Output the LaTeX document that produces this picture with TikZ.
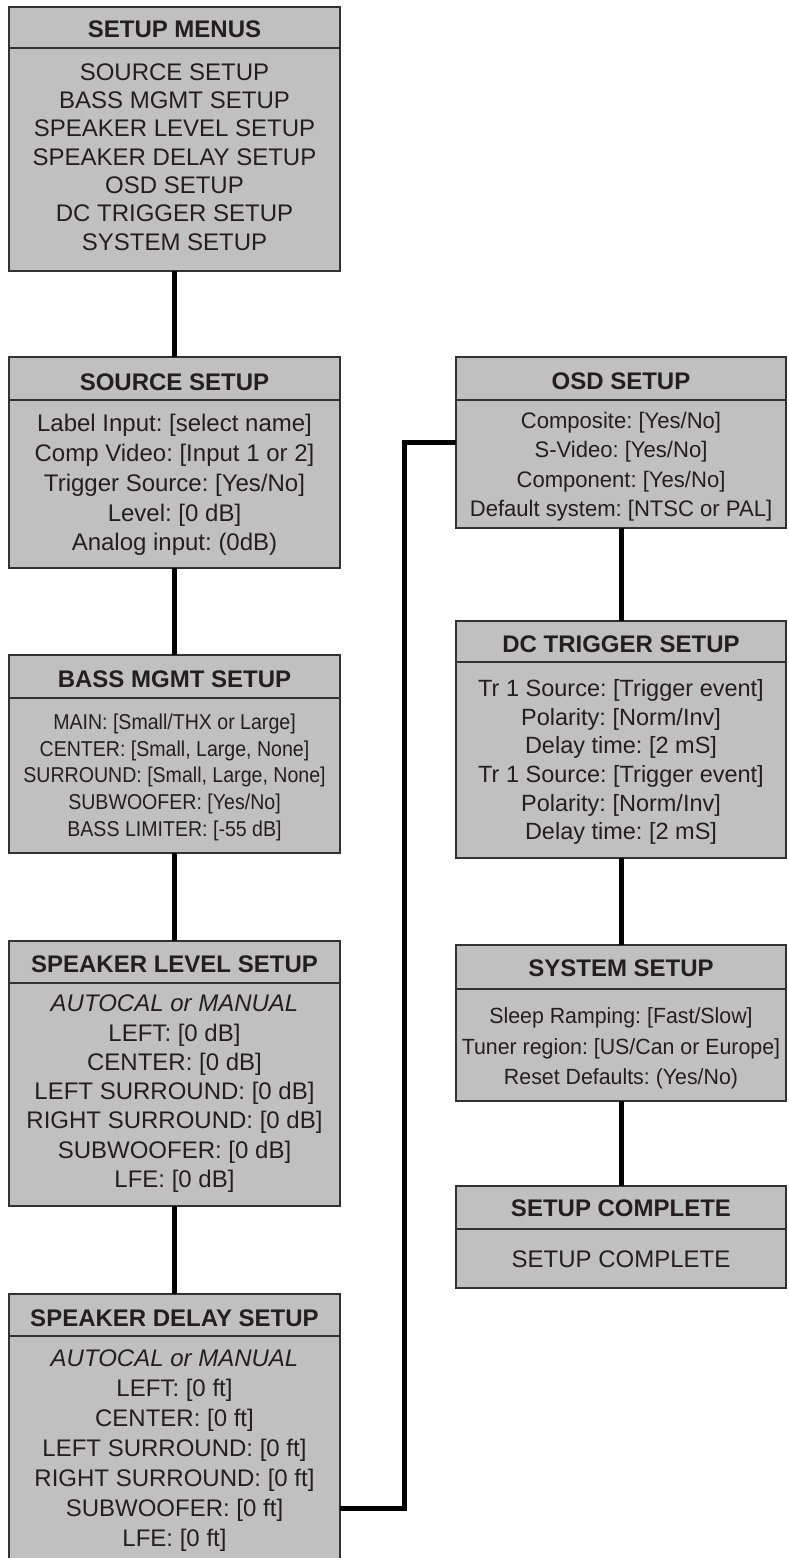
\documentclass[tikz,border=0pt]{standalone}
\usepackage{fontspec}
\setmainfont{Liberation Sans}
\newfontfamily\condfont[FakeStretch=0.91]{Liberation Sans}
\newfontfamily\sysfont[FakeStretch=0.97]{Liberation Sans}
\newfontfamily\osdfont[FakeStretch=0.98]{Liberation Sans}
\definecolor{boxgray}{RGB}{192,192,192}
\definecolor{edgegray}{RGB}{50,50,50}
\definecolor{ink}{RGB}{35,31,32}
\frenchspacing
\newcommand\menubox[6]{%
  \node[box, minimum width={#4-#2}, minimum height={#5-#3}] (#1) at ({(#2+#4)/2},{(#3+#5)/2}) {};
  \draw[divline] ({#2},{#6}) -- ({#4},{#6});}
\tikzset{
  box/.style={draw=edgegray, line width=1.1pt, fill=boxgray, inner sep=0pt, outer sep=0pt},
  divline/.style={draw=edgegray, line width=1.1pt},
  head/.style={anchor=base, inner sep=0pt, text=ink, font=\bfseries\fontsize{24}{28}\selectfont},
  body/.style={anchor=base, inner sep=0pt, text=ink},
  conn/.style={draw=black, line width=5pt}
}
\begin{document}
\begin{tikzpicture}[x=1pt, y=-1pt]
\useasboundingbox[fill=white] (0,0) rectangle (789,1558);

% boxes
\menubox{menus}{9}{7}{340}{271}{48}
\menubox{src}{9}{357}{340}{568}{400}
\menubox{bass}{9}{655}{340}{853}{698}
\menubox{level}{9}{941}{340}{1206}{983}
\menubox{delay}{9}{1294}{340}{1580}{1336}
\menubox{osd}{456}{357}{786}{528}{400}
\menubox{dc}{456}{621}{786}{858}{662}
\menubox{sys}{456}{945}{786}{1101}{989}
\menubox{done}{456}{1186}{786}{1288}{1229}

% connectors
\coordinate (turn) at (404,1508);
\draw[conn] (menus.south) -- (src.north);
\draw[conn] (src.south) -- (bass.north);
\draw[conn] (bass.south) -- (level.north);
\draw[conn] (level.south) -- (delay.north);
\draw[conn] (delay.east |- turn) -- (turn) |- (osd.west);
\draw[conn] (osd.south) -- (dc.north);
\draw[conn] (dc.south) -- (sys.north);
\draw[conn] (sys.south) -- (done.north);

% headers
\node[head] (menus-h) at (174.5,37.5) {SETUP MENUS};
\node[head] (src-h) at (174.5,390) {SOURCE SETUP};
\node[head] (bass-h) at (174.5,687.3) {BASS MGMT SETUP};
\node[head] (level-h) at (174.5,972.7) {SPEAKER LEVEL SETUP};
\node[head] (delay-h) at (174.5,1326) {SPEAKER DELAY SETUP};
\node[head] (osd-h) at (621,389.3) {OSD SETUP};
\node[head] (dc-h) at (621,652) {DC TRIGGER SETUP};
\node[head] (sys-h) at (621,976) {SYSTEM SETUP};
\node[head] (done-h) at (621,1216) {SETUP COMPLETE};

% bodies
\node[body, font=\fontsize{24}{28.3}\selectfont] (menus-b) at (174.5,80.3)
  {\begin{tabular}[t]{@{}c@{}}SOURCE SETUP\\BASS MGMT SETUP\\SPEAKER LEVEL SETUP\\SPEAKER DELAY SETUP\\OSD SETUP\\DC TRIGGER SETUP\\SYSTEM SETUP\end{tabular}};
\node[body, font=\fontsize{24}{29.8}\selectfont] (src-b) at (174.5,431.7)
  {\begin{tabular}[t]{@{}c@{}}Label Input: [select name]\\Comp Video: [Input 1 or 2]\\Trigger Source: [Yes/No]\\Level: [0 dB]\\Analog input: (0dB)\end{tabular}};
\node[body, font=\condfont\fontsize{21.5}{26.7}\selectfont] (bass-b) at (174.5,729.3)
  {\begin{tabular}[t]{@{}c@{}}MAIN: [Small/THX or Large]\\CENTER: [Small, Large, None]\\SURROUND: [Small, Large, None]\\SUBWOOFER: [Yes/No]\\BASS LIMITER: [-55 dB]\end{tabular}};
\node[body, font=\fontsize{24}{29.3}\selectfont] (level-b) at (174.5,1011.7)
  {\begin{tabular}[t]{@{}c@{}}\textit{AUTOCAL or MANUAL}\\LEFT: [0 dB]\\CENTER: [0 dB]\\LEFT SURROUND: [0 dB]\\RIGHT SURROUND: [0 dB]\\SUBWOOFER: [0 dB]\\LFE: [0 dB]\end{tabular}};
\node[body, font=\fontsize{24}{30}\selectfont] (delay-b) at (174.5,1366.7)
  {\begin{tabular}[t]{@{}c@{}}\textit{AUTOCAL or MANUAL}\\LEFT: [0 ft]\\CENTER: [0 ft]\\LEFT SURROUND: [0 ft]\\RIGHT SURROUND: [0 ft]\\SUBWOOFER: [0 ft]\\LFE: [0 ft]\end{tabular}};
\node[body, font=\osdfont\fontsize{22.5}{29.5}\selectfont] (osd-b) at (621,428)
  {\begin{tabular}[t]{@{}c@{}}Composite: [Yes/No]\\S-Video: [Yes/No]\\Component: [Yes/No]\\Default system: [NTSC or PAL]\end{tabular}};
\node[body, font=\fontsize{23.5}{28.6}\selectfont] (dc-b) at (621,696.7)
  {\begin{tabular}[t]{@{}c@{}}Tr 1 Source: [Trigger event]\\Polarity: [Norm/Inv]\\Delay time: [2 mS]\\Tr 1 Source: [Trigger event]\\Polarity: [Norm/Inv]\\Delay time: [2 mS]\end{tabular}};
\node[body, font=\sysfont\fontsize{22}{30.7}\selectfont] (sys-b) at (621,1023.4)
  {\begin{tabular}[t]{@{}c@{}}Sleep Ramping: [Fast/Slow]\\Tuner region: [US/Can or Europe]\\Reset Defaults: (Yes/No)\end{tabular}};
\node[body, font=\fontsize{24}{28}\selectfont] (done-b) at (621,1267) {SETUP COMPLETE};
\end{tikzpicture}
\end{document}
